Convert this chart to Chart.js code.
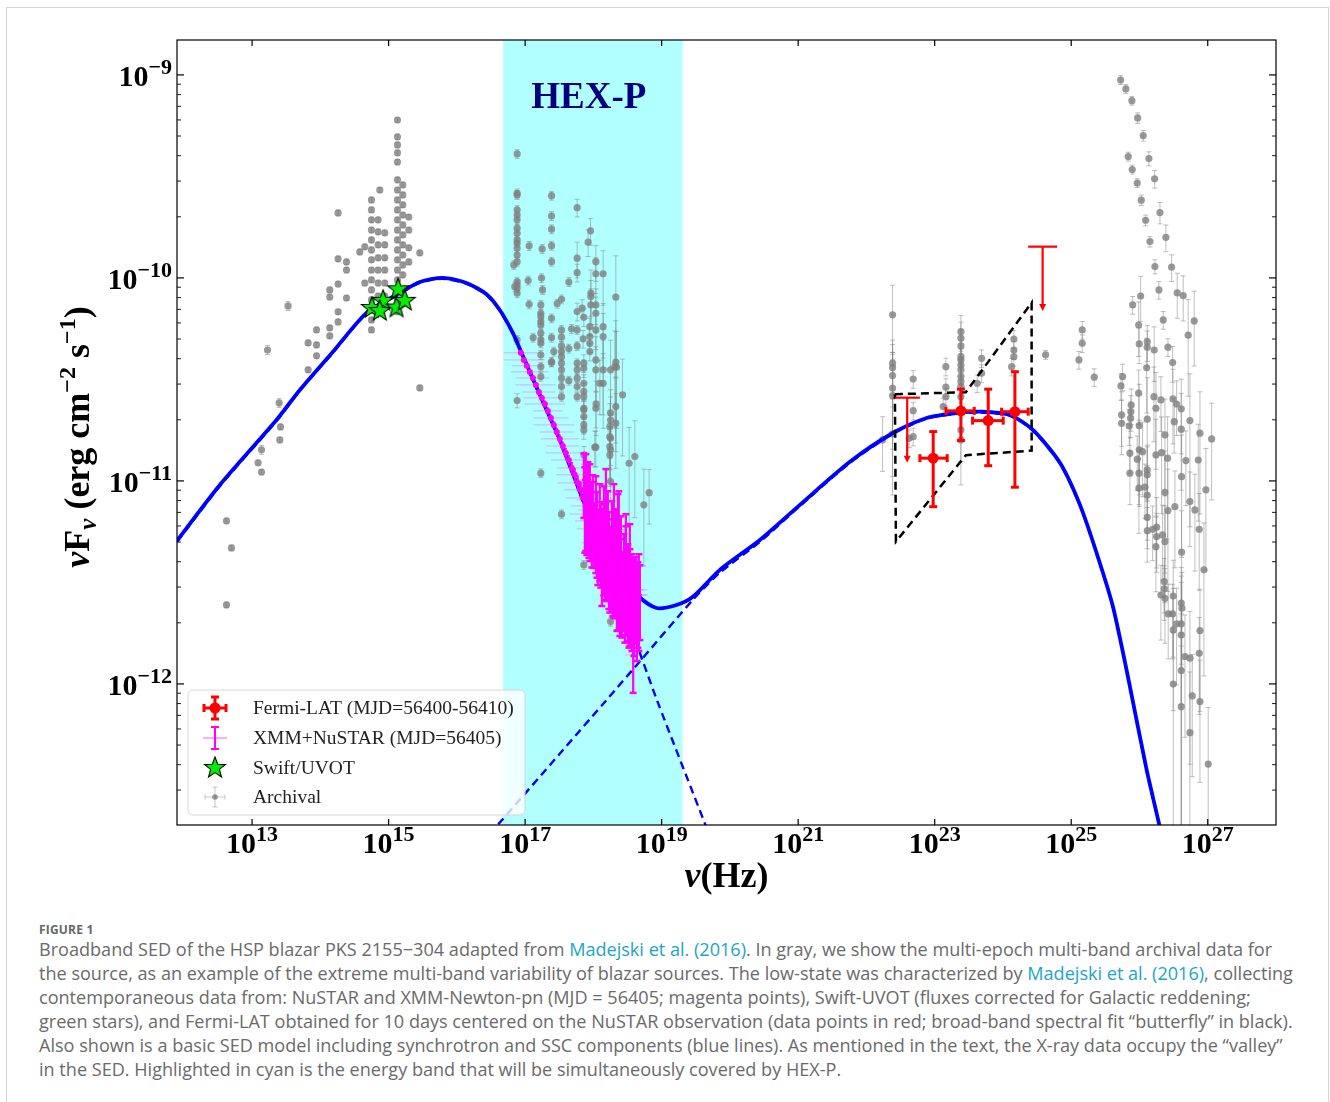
<!DOCTYPE html>
<html>
<head>
<meta charset="utf-8">
<script src="https://cdn.jsdelivr.net/npm/chart.js@4.4.1/dist/chart.umd.min.js"></script>
<style>
  body { margin: 0; background: #fff; }
  #frame { position: absolute; left: 6px; top: 7px; width: 1321px; height: 1110px; border: 1px solid #d4d4d4; }
  #wrap { position: absolute; left: 0; top: 0; width: 1330px; height: 900px; }
  #cap { position: absolute; left: 39px; top: 922px; font-family: "Open Sans", Roboto, sans-serif; color: #6a6a6a; white-space: nowrap; }
  #cap .fig { font-size: 12px; font-weight: bold; line-height: 15px; letter-spacing: 0.2px; color: #666; }
  #cap .ln { font-size: 16px; line-height: 24px; }
  #cap .lk { color: #1aa6c4; }
</style>
</head>
<body>
<div id="frame"></div>
<div id="wrap"><canvas id="sed" width="1330" height="900"></canvas></div>
<div id="cap">
  <div class="fig">FIGURE 1</div>
  <div class="ln">Broadband SED of the HSP blazar PKS 2155−304 adapted from <span class="lk">Madejski et al. (2016)</span>. In gray, we show the multi-epoch multi-band archival data for</div>
  <div class="ln">the source, as an example of the extreme multi-band variability of blazar sources. The low-state was characterized by <span class="lk">Madejski et al. (2016)</span>, collecting</div>
  <div class="ln">contemporaneous data from: NuSTAR and XMM-Newton-pn (MJD = 56405; magenta points), Swift-UVOT (fluxes corrected for Galactic reddening;</div>
  <div class="ln">green stars), and Fermi-LAT obtained for 10 days centered on the NuSTAR observation (data points in red; broad-band spectral fit “butterfly” in black).</div>
  <div class="ln">Also shown is a basic SED model including synchrotron and SSC components (blue lines). As mentioned in the text, the X-ray data occupy the “valley”</div>
  <div class="ln">in the SED. Highlighted in cyan is the energy band that will be simultaneously covered by HEX-P.</div>
</div>
<script>
// all values are log10: nu in Hz, nuFnu in erg cm^-2 s^-1

// axis range and ticks
const xRangeExp = [11.9, 28.0];
const yRangeExp = [-12.695, -8.828];
const xTickExp = [13, 15, 17, 19, 21, 23, 25, 27];
const yTickExp = [-9, -10, -11, -12];

// HEX-P band
const hexpBandExp = [16.678, 19.306];

// SED model (total, synchrotron, SSC)
const totalNu = [11.901, 12.527, 13.357, 13.699, 14.182, 14.676, 15.164, 15.457, 15.794, 16.141, 16.434, 16.629, 16.820, 16.947, 17.215, 17.508, 17.831, 18.094, 18.388, 18.637, 18.925, 19.218, 19.457, 19.853, 20.439, 21.025, 21.758, 22.387, 22.881, 23.369, 23.662, 24.102, 24.439, 24.835, 25.128, 25.372, 25.611, 25.860, 26.105, 26.300, 26.373];
const totalF  = [-11.294, -11.020, -10.700, -10.552, -10.365, -10.172, -10.074, -10.020, -10.000, -10.025, -10.080, -10.158, -10.271, -10.369, -10.576, -10.798, -11.079, -11.291, -11.463, -11.562, -11.626, -11.611, -11.571, -11.438, -11.291, -11.118, -10.906, -10.764, -10.690, -10.664, -10.659, -10.675, -10.749, -10.911, -11.118, -11.355, -11.619, -12.013, -12.424, -12.709, -12.842];
const syncNu = [11.901, 12.527, 13.357, 13.699, 14.182, 14.676, 15.164, 15.457, 15.794, 16.141, 16.434, 16.629, 16.820, 16.947, 17.215, 17.508, 17.831, 18.094, 18.388, 18.637, 18.930, 19.648, 19.853];
const syncF  = [-11.300, -11.026, -10.705, -10.556, -10.370, -10.176, -10.078, -10.024, -10.004, -10.029, -10.084, -10.162, -10.275, -10.373, -10.580, -10.802, -11.089, -11.350, -11.601, -11.808, -12.079, -12.700, -12.877];
const sscNu = [16.482, 16.585, 18.193, 18.725, 19.457, 19.853, 20.439, 21.025, 21.758, 22.387, 22.881, 23.369, 23.662, 24.102, 24.439, 24.835, 25.128, 25.372, 25.611, 25.860, 26.105, 26.300, 26.373];
const sscF  = [-12.739, -12.700, -12.079, -11.872, -11.586, -11.452, -11.300, -11.124, -10.911, -10.768, -10.694, -10.668, -10.663, -10.679, -10.753, -10.915, -11.122, -11.359, -11.623, -12.017, -12.428, -12.713, -12.846];

// Fermi-LAT butterfly outline
const bflyNu = [22.417, 23.457, 24.420, 24.420, 23.457, 22.432, 22.417];
const bflyF  = [-10.573, -10.563, -10.122, -10.851, -10.873, -11.299, -10.573];

// Fermi-LAT points
const fermiNu   = [22.978, 23.384, 23.784, 24.175];
const fermiNuLo = [22.783, 23.164, 23.555, 23.980];
const fermiNuHi = [23.183, 23.579, 24.004, 24.370];
const fermiF    = [-10.888, -10.655, -10.703, -10.659];
const fermiFLo  = [-11.127, -10.801, -10.925, -11.031];
const fermiFHi  = [-10.757, -10.548, -10.548, -10.462];
// Fermi-LAT upper limits
const ulNu   = [22.597, 24.581];
const ulNuLo = [22.417, 24.370];
const ulNuHi = [22.783, 24.795];
const ulF    = [-10.590, -9.846];
const ulTip  = [-10.905, -10.158];

// Swift/UVOT
const uvotNu = [14.754, 14.919, 14.871, 15.116, 15.139, 15.237];
const uvotF  = [-10.143, -10.108, -10.158, -10.141, -10.051, -10.108];

// XMM-Newton: nu, flux, relative flux error, half bin width (dex)
const xmmNu = [16.937, 16.981, 17.025, 17.069, 17.113, 17.157, 17.201, 17.245, 17.289, 17.333, 17.377, 17.420, 17.464, 17.508, 17.552, 17.596, 17.640, 17.684, 17.728, 17.772, 17.816, 17.860, 17.904, 17.948, 17.992, 18.036, 18.080, 18.124, 18.168, 18.212, 18.256, 18.300, 18.344, 18.388];
const xmmF  = [-10.369, -10.404, -10.433, -10.463, -10.493, -10.527, -10.562, -10.591, -10.621, -10.655, -10.690, -10.724, -10.759, -10.793, -10.828, -10.862, -10.897, -10.936, -10.970, -11.010, -11.044, -11.084, -11.123, -11.163, -11.197, -11.236, -11.271, -11.305, -11.340, -11.374, -11.404, -11.438, -11.468, -11.498];
const xmmErr = [0.03, 0.03, 0.03, 0.03, 0.03, 0.03, 0.03, 0.03, 0.04, 0.04, 0.04, 0.04, 0.05, 0.05, 0.05, 0.06, 0.06, 0.07, 0.08, 0.09, 0.10, 0.12, 0.14, 0.16, 0.18, 0.20, 0.22, 0.24, 0.26, 0.28, 0.30, 0.32, 0.34, 0.36];
const xmmDx  = [0.25, 0.30, 0.22, 0.28, 0.25, 0.30, 0.24, 0.27, 0.30, 0.22, 0.26, 0.30, 0.25, 0.28, 0.24, 0.30, 0.26, 0.22, 0.28, 0.30, 0.25, 0.27, 0.23, 0.30, 0.26, 0.28, 0.22, 0.30, 0.25, 0.27, 0.30, 0.24, 0.28, 0.26];

// NuSTAR: [nu, flux, relative flux error]
const nustar = [
  [17.860,-10.995,0.35],[17.875,-11.094,0.45],[17.889,-11.044,0.5],[17.904,-11.143,0.4],[17.919,-11.069,0.45],
  [17.933,-11.192,0.35],[17.948,-11.094,0.5],[17.977,-11.167,0.45],[17.992,-11.118,0.4],[18.007,-11.241,0.35],
  [18.036,-11.153,0.5],[18.051,-11.217,0.45],[18.065,-11.291,0.4],[18.094,-11.192,0.5],[18.109,-11.266,0.45],
  [18.124,-11.315,0.5],[18.153,-11.217,0.55],[18.168,-11.291,0.5],[18.183,-11.118,0.5],[18.183,-11.365,0.4],
  [18.212,-11.241,0.55],[18.227,-11.330,0.5],[18.241,-11.389,0.45],[18.271,-11.291,0.55],[18.285,-11.365,0.5],
  [18.300,-11.192,0.5],[18.300,-11.414,0.45],[18.329,-11.330,0.55],[18.344,-11.438,0.5],[18.359,-11.241,0.5],
  [18.359,-11.389,0.55],[18.373,-11.241,0.55],[18.388,-11.463,0.5],[18.403,-11.365,0.55],[18.417,-11.512,0.45],
  [18.447,-11.438,0.5],[18.461,-11.537,0.45],[18.476,-11.340,0.5],[18.476,-11.414,0.55],[18.505,-11.488,0.5],
  [18.520,-11.562,0.45],[18.534,-11.389,0.5],[18.534,-11.512,0.5],[18.564,-11.537,0.5],[18.579,-11.537,0.45],
  [18.593,-11.562,0.5],[18.622,-11.537,0.45],[18.637,-11.586,0.5],[18.652,-11.562,0.45],[18.666,-11.537,0.5],
  [18.681,-11.562,0.4],[18.583,-11.857,0.35]
];
const nustarDx = 0.12;

// Archival: [nu, flux, relative flux error]
const archOptical = [
  [12.625,-11.197,0.03],[12.698,-11.330,0.03],[12.625,-11.611,0.03],[13.088,-10.911,0.03],[13.138,-10.847,0.05],
  [13.138,-10.956,0.03],[13.226,-10.355,0.05],[13.396,-10.616,0.05],[13.416,-10.734,0.03],[13.406,-10.798,0.03],
  [13.527,-10.138,0.05],[13.821,-10.320,0.03],[13.821,-10.453,0.03],[13.944,-10.256,0.03],[13.944,-10.330,0.03],
  [13.944,-10.384,0.03],[14.138,-10.059,0.03],[14.138,-10.094,0.03],[14.138,-10.246,0.03],[14.138,-10.286,0.03],
  [14.260,-9.680,0.03],[14.260,-9.906,0.03],[14.260,-10.030,0.03],[14.260,-10.167,0.03],[14.260,-10.217,0.03],
  [14.383,-9.921,0.03],[14.383,-9.961,0.03],[14.383,-10.099,0.03],[14.578,-9.872,0.03],[14.651,-9.847,0.03],
  [14.651,-10.025,0.03],
  [14.749,-9.616,0.03],[14.749,-9.665,0.03],[14.749,-9.714,0.03],[14.749,-9.764,0.03],[14.749,-9.813,0.03],
  [14.749,-9.862,0.03],[14.749,-9.911,0.03],[14.749,-9.961,0.03],[14.749,-10.010,0.03],[14.749,-10.059,0.03],
  [14.749,-10.108,0.03],[14.749,-10.158,0.03],[14.749,-10.207,0.03],[14.749,-10.256,0.03],
  [14.846,-9.714,0.03],[14.846,-9.773,0.03],[14.846,-9.837,0.03],[14.846,-9.901,0.03],[14.846,-9.961,0.03],
  [14.846,-10.025,0.03],[14.846,-10.089,0.03],[14.846,-10.158,0.03],[14.871,-9.567,0.03],
  [14.944,-9.778,0.03],[14.944,-9.837,0.03],[14.944,-9.901,0.03],[14.944,-9.961,0.03],[14.944,-10.025,0.03],
  [14.944,-10.089,0.03],[14.944,-10.138,0.03],
  [15.130,-9.222,0.03],[15.130,-9.305,0.03],[15.130,-9.345,0.03],[15.130,-9.384,0.03],[15.130,-9.429,0.03],
  [15.130,-9.517,0.03],[15.130,-9.567,0.03],[15.130,-9.616,0.03],[15.130,-9.665,0.03],[15.130,-9.714,0.03],
  [15.130,-9.764,0.03],[15.130,-9.813,0.03],[15.130,-9.862,0.03],[15.130,-9.911,0.03],[15.130,-9.961,0.03],
  [15.130,-10.010,0.03],[15.130,-10.059,0.03],[15.130,-10.108,0.03],[15.130,-10.167,0.03],
  [15.208,-9.542,0.03],[15.208,-9.591,0.03],[15.208,-9.640,0.03],[15.208,-9.690,0.03],[15.208,-9.739,0.03],
  [15.208,-9.788,0.03],[15.208,-9.837,0.03],[15.208,-9.887,0.03],[15.208,-9.936,0.03],[15.208,-9.985,0.03],
  [15.296,-9.700,0.03],[15.296,-9.764,0.03],[15.296,-9.852,0.03],[15.296,-9.921,0.03],
  [15.457,-9.877,0.03],[15.457,-10.542,0.03]
];
const archXray = [
  [16.883,-9.389,0.05],[16.883,-9.583,0.05],[16.883,-9.591,0.05],[16.883,-9.665,0.05],[16.883,-9.690,0.05],
  [16.883,-9.714,0.05],[16.883,-9.755,0.05],[16.883,-9.780,0.05],[16.883,-9.813,0.05],[16.883,-9.829,0.05],
  [16.883,-9.854,0.05],[16.883,-9.887,0.05],[16.883,-9.920,0.05],[16.834,-9.936,0.05],[16.883,-10.018,0.05],
  [16.883,-10.034,0.05],[16.883,-10.051,0.05],[16.883,-10.075,0.05],[16.849,-10.043,0.05],[16.883,-10.305,0.05],
  [16.883,-10.604,0.08],
  [17.059,-9.842,0.05],[17.044,-10.013,0.05],[17.059,-10.130,0.05],
  [17.387,-9.595,0.05],[17.387,-9.695,0.05],[17.387,-9.760,0.05],[17.387,-9.841,0.05],[17.387,-9.920,0.05],
  [17.249,-9.857,0.05],[17.240,-10.001,0.05],[17.255,-10.059,0.05],
  [17.230,-10.133,0.05],[17.230,-10.174,0.05],[17.230,-10.191,0.05],[17.230,-10.215,0.05],[17.230,-10.232,0.05],
  [17.230,-10.272,0.05],[17.230,-10.305,0.05],[17.230,-10.322,0.05],[17.230,-10.379,0.05],[17.230,-10.437,0.05],
  [17.230,-10.486,0.05],[17.117,-10.294,0.05],
  [17.387,-10.199,0.05],[17.387,-10.294,0.05],[17.387,-10.415,0.05],
  [17.762,-9.654,0.1],[17.958,-9.768,0.15],[17.923,-9.824,0.15],[17.762,-9.903,0.2],[17.762,-9.974,0.1],
  [17.640,-10.020,0.05],[17.469,-10.127,0.05],[17.533,-10.105,0.05],
  [18.036,-9.920,0.2],[18.036,-9.980,0.2],[18.143,-9.980,0.3],
  [17.963,-10.075,0.3],[17.963,-10.092,0.2],[17.963,-10.133,0.2],[18.036,-10.133,0.2],[18.036,-10.174,0.2],
  [18.329,-10.095,0.6],[18.329,-10.415,0.6],[18.339,-10.440,0.5],
  [17.762,-10.166,0.1],[17.835,-10.149,0.1],[17.860,-10.194,0.1],[17.680,-10.251,0.05],
  [17.533,-10.256,0.05],[17.533,-10.292,0.05],[17.533,-10.335,0.05],[17.533,-10.363,0.05],[17.533,-10.388,0.05],
  [17.533,-10.420,0.05],[17.533,-10.453,0.05],[17.533,-10.494,0.05],[17.533,-10.535,0.05],[17.533,-10.585,0.05],
  [17.762,-10.256,0.05],[17.762,-10.335,0.05],[17.762,-10.420,0.05],[17.762,-10.453,0.05],[17.762,-10.494,0.05],
  [17.762,-10.535,0.05],[17.762,-10.585,0.05],
  [17.850,-10.300,0.1],[17.860,-10.420,0.1],[17.860,-10.445,0.1],
  [17.948,-10.240,0.1],[17.948,-10.289,0.1],[17.948,-10.322,0.1],[17.948,-10.363,0.1],
  [18.036,-10.256,0.2],[18.036,-10.404,0.3],[18.036,-10.453,0.3],
  [18.143,-10.240,0.3],[18.143,-10.289,0.3],[18.143,-10.453,0.4],[18.143,-10.519,0.4],
  [18.036,-10.642,0.2],[18.095,-10.519,0.3],
  [17.640,-10.348,0.05],[17.420,-10.363,0.05],[17.387,-10.415,0.05],
  [17.860,-10.519,0.1],[17.860,-10.560,0.1],[17.860,-10.585,0.1],[17.860,-10.642,0.1],[17.860,-10.683,0.1],
  [17.860,-10.724,0.1],
  [18.251,-10.453,0.4],[18.251,-10.665,0.3],[18.251,-10.700,0.3],[18.251,-10.790,0.3],[18.251,-10.847,0.3],
  [18.329,-10.634,0.4],[18.329,-10.716,0.4],[18.427,-10.576,0.5],[18.036,-10.834,0.2],
  [18.607,-10.880,0.5],[18.524,-10.913,0.5],[17.640,-10.506,0.05],
  [17.230,-10.962,0.05],[17.533,-11.164,0.05],[17.860,-11.414,0.05],[18.251,-11.693,0.05],
  [18.040,-10.622,0.3],[18.241,-10.733,0.3],[18.241,-10.782,0.3],[18.241,-10.831,0.3],[18.241,-10.872,0.3],
  [18.314,-10.437,0.5],[18.739,-11.118,0.5],[18.817,-11.058,0.3],
  [17.860,-10.650,0.1],[17.860,-10.749,0.1],[17.864,-10.872,0.1],[18.021,-10.834,0.2],[18.251,-11.003,0.2]
];
const archGeV = [
  [22.383,-10.182,0.4],[22.383,-10.420,0.3],[22.383,-10.442,0.3],[22.383,-10.481,0.3],[22.383,-10.543,0.5],
  [22.383,-10.580,0.6],[22.383,-10.768,0.5],[22.237,-10.798,0.3],[22.685,-10.498,0.1],[22.685,-10.654,0.1],
  [22.685,-10.782,0.1],[22.626,-10.790,0.1],[23.164,-10.437,0.1],[23.164,-10.538,0.1],[23.164,-10.585,0.1],
  [23.124,-10.634,0.1],[23.384,-10.265,0.2],[23.384,-10.297,0.2],[23.384,-10.335,0.2],[23.384,-10.388,0.2],
  [23.384,-10.404,0.2],[23.384,-10.429,0.2],[23.384,-10.453,0.2],[23.384,-10.486,0.2],[23.384,-10.511,0.3],
  [23.384,-10.536,0.3],[23.384,-10.585,0.3],[23.384,-10.749,0.3],[23.384,-10.798,0.4],[23.687,-10.396,0.1],
  [23.687,-10.470,0.1],[23.623,-10.519,0.1],[24.160,-10.301,0.1],[24.160,-10.355,0.1],[24.160,-10.388,0.1],
  [24.127,-10.437,0.1],[24.625,-10.379,0.05],[25.113,-10.404,0.1],[25.161,-10.256,0.1],[25.161,-10.322,0.1],
  [25.337,-10.489,0.1]
];
const archTeV = [
  [25.724,-9.025,0.05],[25.801,-9.069,0.05],[25.889,-9.127,0.05],[25.973,-9.212,0.06],[26.055,-9.299,0.06],
  [25.835,-9.402,0.05],[26.138,-9.412,0.08],[25.894,-9.466,0.05],[26.222,-9.512,0.1],[25.967,-9.533,0.05],
  [26.026,-9.617,0.06],[26.300,-9.678,0.12],[26.090,-9.716,0.06],[26.387,-9.800,0.15],[26.153,-9.821,0.06],
  [26.226,-9.944,0.08],[26.471,-9.947,0.15],[26.285,-10.059,0.1],[26.017,-10.089,0.25],[26.553,-10.074,0.25],
  [26.641,-10.087,0.25],[25.900,-10.133,0.1],[26.348,-10.207,0.1],[26.802,-10.212,0.4],[26.714,-10.282,0.5],
  [25.988,-10.232,0.3],[25.996,-10.325,0.2],[26.114,-10.314,0.2],[26.114,-10.341,0.2],[26.216,-10.355,0.3],
  [26.417,-10.341,0.1],[26.486,-10.417,0.2],[26.105,-10.443,0.4],[25.753,-10.486,0.15],[25.728,-10.532,0.15],
  [25.988,-10.568,0.3],[26.212,-10.585,0.4],[26.314,-10.601,0.3],[26.490,-10.596,0.4],[26.544,-10.621,0.3],
  [26.612,-10.645,0.4],[25.879,-10.626,0.2],[25.874,-10.659,0.2],[25.870,-10.691,0.2],[25.738,-10.675,0.3],
  [25.738,-10.716,0.3],[25.850,-10.729,0.2],[25.996,-10.728,0.6],[26.114,-10.696,0.6],[26.241,-10.642,0.5],
  [26.373,-10.773,0.5],[26.509,-10.708,0.3],[26.612,-10.745,0.5],[26.739,-10.703,0.7],[26.886,-10.765,0.6],
  [27.057,-10.793,0.5],
  [25.860,-10.864,0.2],[25.860,-10.962,0.3],[25.992,-10.962,0.3],[25.992,-11.036,0.4],[26.080,-11.031,0.3],
  [26.114,-10.946,0.3],[26.114,-10.970,0.4],[26.241,-10.872,0.5],[26.324,-10.861,0.5],[25.996,-10.847,0.4],
  [26.046,-10.856,0.4],[25.967,-10.893,0.3],[26.412,-10.888,0.6],[26.373,-11.056,0.6],[26.417,-11.146,0.6],
  [26.519,-11.127,0.5],[26.617,-10.979,0.6],[26.680,-10.900,0.4],[26.861,-10.897,0.5],[26.973,-11.044,0.6],
  [26.739,-11.102,0.4],[26.812,-11.143,0.5],[26.875,-11.238,0.5],[26.114,-11.070,0.4],[26.114,-11.179,0.3],
  [26.114,-11.245,0.3],[26.193,-11.238,0.3],[26.251,-11.228,0.4],[26.251,-11.274,0.3],[26.241,-11.324,0.4],
  [26.339,-11.266,0.4],[26.373,-11.299,0.5],[26.617,-11.351,0.6],[26.944,-11.438,0.7],[26.363,-11.496,0.3],
  [26.363,-11.532,0.3],[26.314,-11.562,0.4],[26.373,-11.578,0.4],[26.495,-11.567,0.5],[26.421,-11.655,0.4],
  [26.486,-11.655,0.4],[26.612,-11.602,0.5],[26.622,-11.627,0.5],[26.544,-11.704,0.5],[26.612,-11.704,0.6],
  [26.495,-11.734,0.6],[26.612,-11.759,0.95],[26.886,-11.737,0.6],[26.666,-11.865,0.6],[26.739,-11.873,0.7],
  [26.875,-11.849,0.5],[26.612,-11.934,0.9],[26.495,-12.001,0.8],[26.773,-12.059,0.6],[26.886,-12.087,0.6],
  [26.612,-12.112,0.99],[26.739,-12.240,0.99],[27.007,-12.395,0.9]
];

const legendLabels = ['Fermi-LAT (MJD=56400-56410)', 'XMM+NuSTAR (MJD=56405)', 'Swift/UVOT', 'Archival'];

// ---------------------------------------------------------------
const P = v => Math.pow(10, v);
const pts = (nu, f) => nu.map((v, i) => ({ x: P(v), y: P(f[i]) }));
const SERIF = '"Liberation Serif", "DejaVu Serif", serif';
const MAGENTA = '#ff00ff';

const archival = [...archOptical, ...archXray, ...archGeV, ...archTeV];

// filled green star used as point style
function makeStar(r) {
  const c = document.createElement('canvas');
  const s = Math.ceil(2 * r + 4);
  c.width = s; c.height = s;
  const g = c.getContext('2d');
  g.translate(s / 2, s / 2 + 1);
  g.beginPath();
  for (let k = 0; k < 10; k++) {
    const rr = k % 2 ? r * 0.42 : r;
    const a = -Math.PI / 2 + k * Math.PI / 5;
    g.lineTo(rr * Math.cos(a), rr * Math.sin(a));
  }
  g.closePath();
  g.fillStyle = '#00ee00';
  g.fill();
  g.lineWidth = 1.1;
  g.strokeStyle = '#000';
  g.stroke();
  return c;
}
const starImg = makeStar(11);

function seg(ctx, x1, y1, x2, y2) {
  ctx.beginPath(); ctx.moveTo(x1, y1); ctx.lineTo(x2, y2); ctx.stroke();
}

// error bars drawn just before each dataset's own points
const errorBars = {
  id: 'errorBars',
  beforeDatasetDraw(chart, args) {
    const ds = chart.data.datasets[args.index];
    if (!ds.errs) return;
    const { ctx, chartArea: a } = chart;
    const xs = chart.scales.x, ys = chart.scales.y;
    const s = ds.errStyle;
    ctx.save();
    ctx.beginPath(); ctx.rect(a.left, a.top, a.right - a.left, a.bottom - a.top); ctx.clip();
    ctx.lineCap = 'butt';
    ds.data.forEach((p, i) => {
      const e = ds.errs[i];
      const px = xs.getPixelForValue(p.x), py = ys.getPixelForValue(p.y);
      if (e.xlo != null) {
        const x1 = xs.getPixelForValue(e.xlo), x2 = xs.getPixelForValue(e.xhi);
        ctx.strokeStyle = s.hColor || s.color; ctx.lineWidth = s.hWidth || s.width;
        seg(ctx, x1, py, x2, py);
        if (s.hCap) { seg(ctx, x1, py - s.hCap, x1, py + s.hCap); seg(ctx, x2, py - s.hCap, x2, py + s.hCap); }
      }
      if (e.ylo != null) {
        const y1 = e.ylo > 0 ? ys.getPixelForValue(e.ylo) : a.bottom + 20;
        const y2 = ys.getPixelForValue(e.yhi);
        ctx.strokeStyle = s.color; ctx.lineWidth = s.width;
        seg(ctx, px, y1, px, y2);
        if (s.cap) {
          ctx.lineWidth = s.capWidth || s.width;
          seg(ctx, px - s.cap, y1, px + s.cap, y1); seg(ctx, px - s.cap, y2, px + s.cap, y2);
        }
      }
      if (e.uplim != null) {
        const x1 = xs.getPixelForValue(e.xlo2), x2 = xs.getPixelForValue(e.xhi2);
        const yt = ys.getPixelForValue(e.uplim);
        ctx.strokeStyle = s.color; ctx.fillStyle = s.color; ctx.lineWidth = s.width;
        seg(ctx, x1, py, x2, py);
        seg(ctx, px, py, px, yt - 4);
        ctx.beginPath(); ctx.moveTo(px - 3.5, yt - 6); ctx.lineTo(px + 3.5, yt - 6); ctx.lineTo(px, yt + 1); ctx.closePath(); ctx.fill();
      }
    });
    ctx.restore();
  }
};

function drawRich(ctx, parts, x, y) {
  parts.forEach(p => {
    ctx.font = p.f;
    ctx.fillText(p.t, x, y + (p.dy || 0));
    x += ctx.measureText(p.t).width;
  });
}
function richWidth(ctx, parts) {
  let w = 0;
  parts.forEach(p => { ctx.font = p.f; w += ctx.measureText(p.t).width; });
  return w;
}

// cyan band, HEX-P label
const band = {
  id: 'band',
  beforeDatasetsDraw(chart) {
    const { ctx, chartArea: a } = chart;
    const xs = chart.scales.x;
    const x1 = xs.getPixelForValue(P(hexpBandExp[0])), x2 = xs.getPixelForValue(P(hexpBandExp[1]));
    ctx.save();
    ctx.fillStyle = 'rgb(178,255,255)';
    ctx.fillRect(x1, a.top, x2 - x1, a.bottom - a.top);
    ctx.fillStyle = '#000080';
    ctx.font = 'bold 37px ' + SERIF;
    ctx.textAlign = 'center';
    ctx.textBaseline = 'alphabetic';
    ctx.fillText('HEX-P', (x1 + x2) / 2 - 4, 108);
    ctx.restore();
  }
};

// frame, inward ticks, tick labels, axis titles, legend
const frame = {
  id: 'frame',
  afterDraw(chart) {
    const { ctx, chartArea: a } = chart;
    const xs = chart.scales.x, ys = chart.scales.y;
    ctx.save();
    ctx.strokeStyle = '#000';
    ctx.lineWidth = 1.2;
    ctx.strokeRect(a.left, a.top, a.right - a.left, a.bottom - a.top);

    // x ticks
    xTickExp.forEach(e => {
      const px = xs.getPixelForValue(P(e));
      seg(ctx, px, a.bottom, px, a.bottom - 6);
      seg(ctx, px, a.top, px, a.top + 6);
    });
    // y ticks, major and minor
    for (let d = Math.floor(yRangeExp[0]); d <= Math.ceil(yRangeExp[1]); d++) {
      for (let m = 1; m <= 9; m++) {
        const v = m * P(d);
        if (v < P(yRangeExp[0]) || v > P(yRangeExp[1])) continue;
        const py = ys.getPixelForValue(v);
        const len = m === 1 ? 7 : 4;
        ctx.lineWidth = m === 1 ? 1.2 : 0.9;
        seg(ctx, a.left, py, a.left + len, py);
        seg(ctx, a.right, py, a.right - len, py);
      }
    }

    ctx.fillStyle = '#000';
    ctx.textBaseline = 'alphabetic';
    const big = 'bold 30px ' + SERIF, sup = 'bold 22px ' + SERIF;
    xTickExp.forEach(e => {
      const px = xs.getPixelForValue(P(e));
      const parts = [{ t: '10', f: big }, { t: String(e), f: sup, dy: -12 }];
      const w = richWidth(ctx, parts);
      drawRich(ctx, parts, px - w / 2, a.bottom + 28);
    });
    yTickExp.forEach(e => {
      const py = ys.getPixelForValue(P(e));
      const parts = [{ t: '10', f: big }, { t: '\u2212' + Math.abs(e), f: sup, dy: -12 }];
      const w = richWidth(ctx, parts);
      drawRich(ctx, parts, a.left - 5 - w, py + 11);
    });

    // x title
    const tf = 'bold 36px ' + SERIF, tfi = 'bold italic 36px ' + SERIF;
    const xt = [{ t: '\u03bd', f: tfi }, { t: '(Hz)', f: tf }];
    drawRich(ctx, xt, (a.left + a.right) / 2 - richWidth(ctx, xt) / 2, 887);

    // y title, rotated
    const yt = [
      { t: '\u03bd', f: tfi }, { t: 'F', f: tf }, { t: '\u03bd', f: 'bold italic 25px ' + SERIF, dy: 7 },
      { t: ' (erg cm', f: tf }, { t: '\u22122', f: 'bold 24px ' + SERIF, dy: -14 },
      { t: ' s', f: tf }, { t: '\u22121', f: 'bold 24px ' + SERIF, dy: -14 }, { t: ')', f: tf }
    ];
    ctx.save();
    ctx.translate(89, 437);
    ctx.rotate(-Math.PI / 2);
    drawRich(ctx, yt, -richWidth(ctx, yt) / 2, 0);
    ctx.restore();

    drawLegend(ctx);
    ctx.restore();
  }
};

function drawLegend(ctx) {
  ctx.save();
  const bx = 188, by = 690, bw = 337, bh = 125, r = 5;
  ctx.beginPath();
  ctx.moveTo(bx + r, by); ctx.arcTo(bx + bw, by, bx + bw, by + bh, r); ctx.arcTo(bx + bw, by + bh, bx, by + bh, r);
  ctx.arcTo(bx, by + bh, bx, by, r); ctx.arcTo(bx, by, bx + bw, by, r); ctx.closePath();
  ctx.fillStyle = 'rgba(255,255,255,0.8)'; ctx.fill();
  ctx.strokeStyle = '#d6d6d6'; ctx.lineWidth = 1; ctx.stroke();

  const cx = 215, rows = [708, 738, 768, 797];
  // Fermi
  ctx.strokeStyle = 'red'; ctx.fillStyle = 'red'; ctx.lineWidth = 3;
  seg(ctx, cx - 11, rows[0], cx + 11, rows[0]);
  seg(ctx, cx, rows[0] - 11, cx, rows[0] + 11);
  seg(ctx, cx - 11, rows[0] - 4, cx - 11, rows[0] + 4); seg(ctx, cx + 11, rows[0] - 4, cx + 11, rows[0] + 4);
  seg(ctx, cx - 4, rows[0] - 11, cx + 4, rows[0] - 11); seg(ctx, cx - 4, rows[0] + 11, cx + 4, rows[0] + 11);
  ctx.beginPath(); ctx.arc(cx, rows[0], 5.5, 0, 2 * Math.PI); ctx.fill();
  // XMM+NuSTAR
  ctx.strokeStyle = 'rgba(255,0,255,0.45)'; ctx.lineWidth = 1.5;
  seg(ctx, cx - 12, rows[1], cx + 12, rows[1]);
  ctx.strokeStyle = MAGENTA; ctx.lineWidth = 2;
  seg(ctx, cx, rows[1] - 11, cx, rows[1] + 11);
  seg(ctx, cx - 4, rows[1] - 11, cx + 4, rows[1] - 11); seg(ctx, cx - 4, rows[1] + 11, cx + 4, rows[1] + 11);
  // Swift
  ctx.drawImage(starImg, cx - starImg.width / 2, rows[2] - starImg.height / 2 - 1);
  // Archival
  ctx.strokeStyle = 'rgba(128,128,128,0.45)'; ctx.lineWidth = 1;
  seg(ctx, cx - 10, rows[3], cx + 10, rows[3]); seg(ctx, cx, rows[3] - 10, cx, rows[3] + 10);
  seg(ctx, cx - 2.5, rows[3] - 10, cx + 2.5, rows[3] - 10); seg(ctx, cx - 2.5, rows[3] + 10, cx + 2.5, rows[3] + 10);
  seg(ctx, cx - 10, rows[3] - 2.5, cx - 10, rows[3] + 2.5); seg(ctx, cx + 10, rows[3] - 2.5, cx + 10, rows[3] + 2.5);
  ctx.fillStyle = 'rgba(128,128,128,0.85)';
  ctx.beginPath(); ctx.arc(cx, rows[3], 2.8, 0, 2 * Math.PI); ctx.fill();

  ctx.fillStyle = '#222';
  ctx.font = '19.5px ' + SERIF;
  ctx.textBaseline = 'middle';
  legendLabels.forEach((t, i) => ctx.fillText(t, 253, rows[i] + 1));
  ctx.restore();
}

// ---------------------------------------------------------------
const datasets = [
  {
    label: 'Fermi-LAT', order: 1,
    data: pts(fermiNu, fermiF),
    errs: fermiNu.map((v, i) => ({ xlo: P(fermiNuLo[i]), xhi: P(fermiNuHi[i]), ylo: P(fermiFLo[i]), yhi: P(fermiFHi[i]) })),
    errStyle: { color: 'red', width: 3, cap: 4, capWidth: 3, hCap: 4 },
    backgroundColor: 'red', borderWidth: 0, pointRadius: 5.5
  },
  {
    label: 'Fermi-LAT UL', order: 1,
    data: pts(ulNu, ulF),
    errs: ulNu.map((v, i) => ({ xlo2: P(ulNuLo[i]), xhi2: P(ulNuHi[i]), uplim: P(ulTip[i]) })),
    errStyle: { color: 'red', width: 2.2 },
    pointRadius: 0
  },
  {
    label: 'Swift/UVOT', order: 2,
    data: pts(uvotNu, uvotF),
    pointStyle: starImg, pointRadius: 11
  },
  {
    label: 'NuSTAR', order: 3,
    data: nustar.map(d => ({ x: P(d[0]), y: P(d[1]) })),
    errs: nustar.map(d => ({ xlo: P(d[0] - nustarDx), xhi: P(d[0] + nustarDx), ylo: P(d[1]) * (1 - d[2]), yhi: P(d[1]) * (1 + d[2]) })),
    errStyle: { color: MAGENTA, width: 2.2, cap: 3.5, capWidth: 2.5, hColor: 'rgba(255,0,255,0.3)', hWidth: 1 },
    backgroundColor: MAGENTA, borderWidth: 0, pointRadius: 2
  },
  {
    label: 'XMM', order: 4,
    data: pts(xmmNu, xmmF),
    errs: xmmNu.map((v, i) => ({ xlo: P(v - xmmDx[i]), xhi: P(v + xmmDx[i]), ylo: P(xmmF[i]) * (1 - xmmErr[i]), yhi: P(xmmF[i]) * (1 + xmmErr[i]) })),
    errStyle: { color: MAGENTA, width: 2, hColor: 'rgba(255,0,255,0.3)', hWidth: 1 },
    backgroundColor: MAGENTA, borderWidth: 0, pointRadius: 3
  },
  {
    label: 'butterfly', order: 5, showLine: true,
    data: pts(bflyNu, bflyF),
    borderColor: '#000', borderWidth: 2.5, borderDash: [8, 5], pointRadius: 0
  },
  {
    label: 'model', order: 6, showLine: true,
    data: pts(totalNu, totalF),
    borderColor: '#0000ff', borderWidth: 3.8, pointRadius: 0, tension: 0.25
  },
  {
    label: 'synchrotron', order: 7, showLine: true,
    data: pts(syncNu, syncF),
    borderColor: '#0000ff', borderWidth: 2.4, borderDash: [8, 5], pointRadius: 0, tension: 0.25
  },
  {
    label: 'SSC', order: 7, showLine: true,
    data: pts(sscNu, sscF),
    borderColor: '#0000ff', borderWidth: 2.4, borderDash: [8, 5], pointRadius: 0, tension: 0.25
  },
  {
    label: 'Archival', order: 9,
    data: archival.map(d => ({ x: P(d[0]), y: P(d[1]) })),
    errs: archival.map(d => ({ ylo: P(d[1]) * (1 - d[2]), yhi: P(d[1]) * (1 + d[2]) })),
    errStyle: { color: 'rgba(128,128,128,0.5)', width: 1, cap: 2.5, capWidth: 1 },
    backgroundColor: 'rgba(128,128,128,0.8)', borderWidth: 0, pointRadius: 3.6
  }
];

new Chart(document.getElementById('sed'), {
  type: 'scatter',
  data: { datasets },
  plugins: [band, errorBars, frame],
  options: {
    responsive: false,
    animation: false,
    layout: { padding: { left: 177, right: 54, top: 40, bottom: 75 } },
    scales: {
      x: { type: 'logarithmic', display: false, min: P(xRangeExp[0]), max: P(xRangeExp[1]) },
      y: { type: 'logarithmic', display: false, min: P(yRangeExp[0]), max: P(yRangeExp[1]) }
    },
    plugins: { legend: { display: false }, tooltip: { enabled: false } }
  }
});

// fit caption lines to the figure width
(function () {
  const first = document.querySelector('#cap .ln');
  const w = first.getBoundingClientRect().width;
  const size = 16 * 1254 / w;
  document.querySelectorAll('#cap .ln').forEach(el => { el.style.fontSize = size.toFixed(2) + 'px'; });
})();
</script>
</body>
</html>
